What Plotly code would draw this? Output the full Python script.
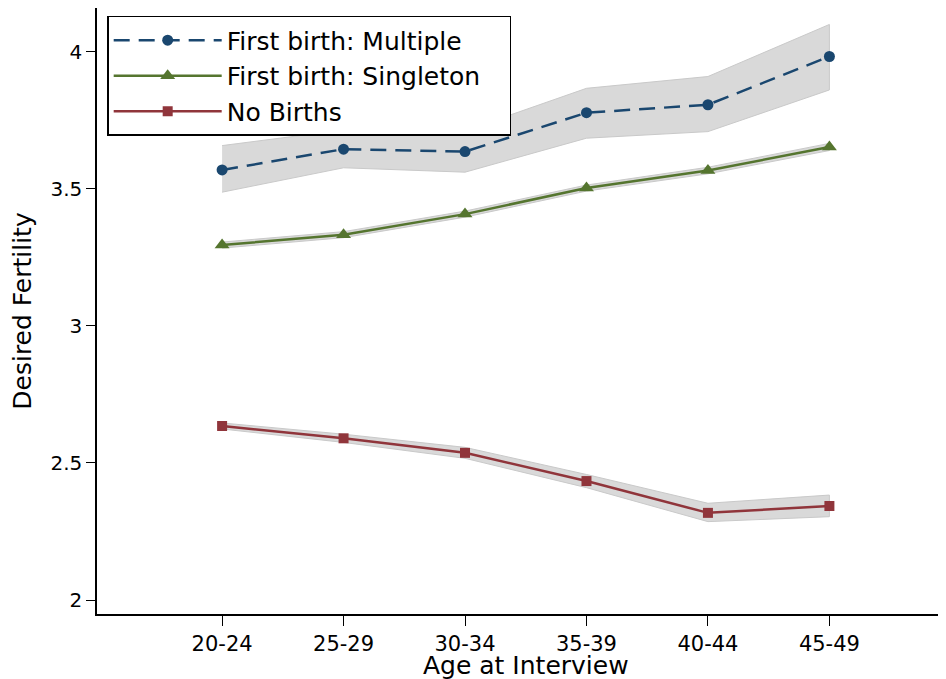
import plotly.graph_objects as go

categories = ["20-24", "25-29", "30-34", "35-39", "40-44", "45-49"]

multiple = [3.569, 3.645, 3.636, 3.778, 3.807, 3.983]
multiple_lo = [3.488, 3.577, 3.561, 3.685, 3.709, 3.861]
multiple_hi = [3.658, 3.715, 3.712, 3.867, 3.910, 4.100]

singleton = [3.295, 3.333, 3.408, 3.503, 3.567, 3.653]
singleton_lo = [3.284, 3.322, 3.397, 3.492, 3.555, 3.640]
singleton_hi = [3.306, 3.344, 3.419, 3.514, 3.579, 3.666]

nobirths = [2.635, 2.590, 2.537, 2.434, 2.318, 2.343]
nobirths_lo = [2.624, 2.575, 2.517, 2.410, 2.286, 2.304]
nobirths_hi = [2.646, 2.605, 2.557, 2.458, 2.353, 2.383]

y_ticks = [2, 2.5, 3, 3.5, 4]
y_ticklabels = ["2", "2.5", "3", "3.5", "4"]

x_title = "Age at Interview"
y_title = "Desired Fertility"

NAVY = "#1a476f"
GREEN = "#55752f"
MAROON = "#90353b"
BAND = "rgba(217,217,217,1)"
BAND_LINE = "#c9c9c9"

xi = list(range(len(categories)))

fig = go.Figure()

for lo, hi in [(multiple_lo, multiple_hi), (singleton_lo, singleton_hi), (nobirths_lo, nobirths_hi)]:
    fig.add_trace(go.Scatter(
        x=xi + xi[::-1], y=hi + lo[::-1], fill="toself", fillcolor=BAND,
        line=dict(color=BAND_LINE, width=1), mode="lines",
        showlegend=False, hoverinfo="skip"))

NB = "\u00a0"
fig.add_trace(go.Scatter(
    x=xi, y=multiple, mode="lines+markers", name="First birth: Multiple",
    line=dict(color=NAVY, width=2.5, dash="16px,9px"),
    marker=dict(symbol="circle", size=11, color=NAVY)))
fig.add_trace(go.Scatter(
    x=xi, y=singleton, mode="lines+markers", name="First birth: Singleton" + NB * 3,
    line=dict(color=GREEN, width=2.5),
    marker=dict(symbol="triangle-up", size=13, color=GREEN)))
fig.add_trace(go.Scatter(
    x=xi, y=nobirths, mode="lines+markers", name="No Births",
    line=dict(color=MAROON, width=2.5),
    marker=dict(symbol="square", size=10, color=MAROON)))

FONT = "DejaVu Sans"
fig.update_layout(
    width=946, height=679,
    margin=dict(l=89, r=8, t=0, b=73),
    plot_bgcolor="white", paper_bgcolor="white",
    font=dict(family=FONT, color="black"),
    showlegend=True,
    legend=dict(
        x=0.012, y=0.987, xanchor="left", yanchor="top",
        bgcolor="white", bordercolor="black", borderwidth=1.5,
        font=dict(family=FONT, size=25, color="black"),
        itemwidth=108, tracegroupgap=0,
    ),
    xaxis=dict(
        range=[-1.03, 5.96], tickvals=xi, ticktext=categories,
        showline=True, linecolor="black", linewidth=1.5,
        ticks="outside", ticklen=10, tickcolor="black", tickwidth=1.2,
        tickfont=dict(family=FONT, size=21),
        showgrid=False, zeroline=False,
    ),
    yaxis=dict(
        range=[1.949, 4.16], tickvals=y_ticks, ticktext=y_ticklabels,
        showline=True, linecolor="black", linewidth=1.5,
        ticks="outside", ticklen=9, tickcolor="black", tickwidth=1.2,
        tickfont=dict(family=FONT, size=20),
        showgrid=False, zeroline=False,
        title=dict(text=y_title, font=dict(family=FONT, size=25), standoff=12),
    ),
    annotations=[dict(
        text=x_title, xref="paper", yref="paper", x=0.505, y=-0.085,
        xanchor="center", yanchor="middle", showarrow=False,
        font=dict(family=FONT, size=25, color="black"))],
)

fig.write_html("out.html")
